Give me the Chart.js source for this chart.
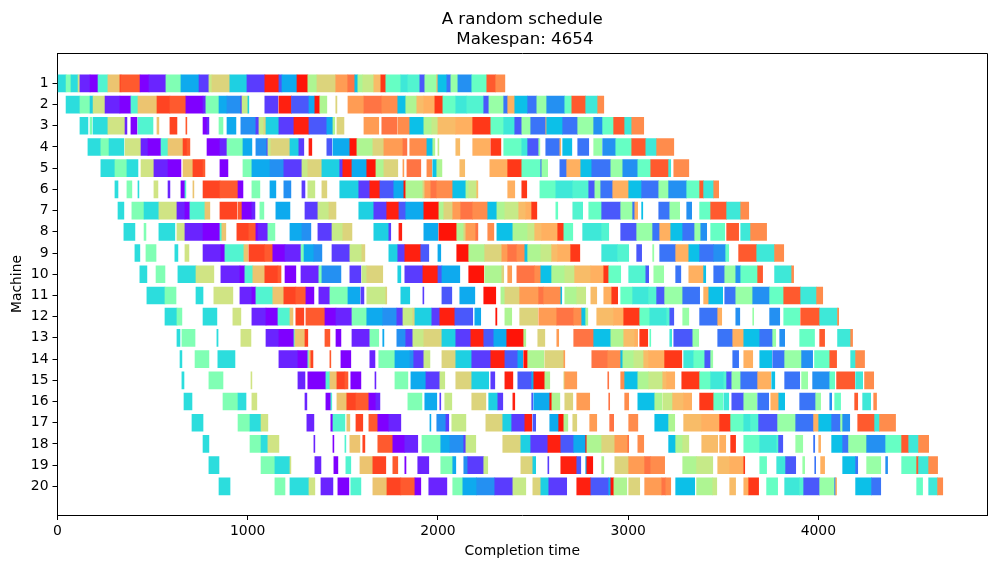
<!DOCTYPE html>
<html>
<head>
<meta charset="utf-8">
<style>html,body{margin:0;padding:0;background:#fff}canvas{display:block}</style>
<script src="https://cdn.jsdelivr.net/npm/chart.js@4"></script>
</head>
<body>
<canvas id="gantt" width="997" height="568"></canvas>
<script>
// Job colours, sampled along a purple-to-red rainbow ramp.
const jobColours = ['#7f00ff','#6a24ff','#5a3cfe','#4a58fb','#3a74f8','#2490f2','#0eaaee','#0cc0e8','#1ed0e2','#2cdddd',
  '#3ee8d8','#52f4d0','#66ffc4','#80ffb4','#98ffa6','#aef592','#c6ea88','#d0e484','#dcd47c','#ecc470',
  '#f8bc68','#ffb060','#ff9c54','#ff8c4c','#ff7444','#ff5a2e','#ff4422','#ff3818','#ff2010','#ff1408'];

const chartTitle = ['A random schedule', ' Makespan: 4654'];
const makespan = 4654;
const xTicks = [0, 1000, 2000, 3000, 4000];

// One list per machine: [colour index, start time, completion time].
const machine1 = [[9,0,45],[13,45,71],[9,71,108],[17,108,118],[1,118,171],[0,171,213],[11,213,265],[19,265,328],[26,328,334],[25,334,434],[0,434,481],[1,481,570],[13,570,649],[6,649,744],[2,744,796],[16,796,812],[18,812,906],[8,906,996],[2,996,1090],[28,1090,1164],[3,1164,1180],[6,1180,1259],[29,1259,1316],[15,1316,1364],[18,1364,1463],[22,1463,1526],[24,1526,1563],[7,1563,1579],[15,1579,1605],[16,1605,1663],[20,1663,1700],[27,1700,1726],[12,1726,1805],[10,1805,1842],[11,1842,1905],[3,1905,1931],[14,1931,1994],[21,1994,2000],[7,2000,2047],[4,2047,2068],[14,2068,2105],[5,2105,2178],[12,2178,2257],[25,2257,2304],[23,2304,2352]];
const machine2 = [[9,45,118],[13,118,171],[8,171,187],[17,187,250],[1,250,328],[0,328,386],[11,386,423],[19,423,523],[26,523,591],[25,591,675],[0,675,765],[1,765,780],[13,780,849],[6,849,891],[5,891,964],[2,964,970],[16,970,1001],[8,1001,1006],[2,1090,1159],[28,1164,1230],[3,1230,1322],[6,1322,1353],[29,1353,1379],[15,1379,1416],[18,1463,1469],[22,1527,1611],[24,1611,1705],[23,1705,1789],[7,1789,1831],[15,1831,1889],[20,1889,1926],[21,1926,1984],[27,1984,2026],[12,2026,2094],[10,2094,2152],[11,2152,2241],[3,2241,2268],[14,2268,2346],[4,2346,2367],[21,2367,2404],[7,2404,2472],[4,2472,2520],[14,2520,2572],[5,2572,2667],[12,2667,2704],[25,2704,2777],[10,2777,2840],[23,2840,2872]];
const machine3 = [[9,118,160],[13,171,181],[9,187,265],[17,265,355],[1,355,365],[0,386,418],[11,423,502],[19,523,533],[26,591,628],[25,675,680],[0,765,786],[1,786,796],[13,849,870],[6,891,938],[5,964,1043],[2,1043,1059],[16,1059,1085],[18,1085,1096],[8,1096,1164],[2,1164,1243],[28,1243,1322],[3,1322,1416],[6,1416,1448],[15,1448,1458],[18,1469,1506],[22,1611,1689],[24,1705,1784],[23,1789,1852],[7,1852,1926],[15,1926,1968],[16,1968,2000],[20,2000,2094],[21,2094,2183],[27,2183,2278],[12,2278,2346],[10,2346,2404],[3,2404,2441],[14,2441,2488],[4,2488,2567],[21,2567,2572],[7,2572,2656],[4,2656,2735],[14,2735,2819],[5,2819,2866],[12,2866,2924],[25,2924,2982],[10,2982,3019],[23,3019,3082]];
const machine4 = [[9,160,228],[13,228,271],[9,271,349],[17,355,439],[1,439,476],[0,476,544],[11,544,581],[19,581,660],[26,660,681],[25,681,696],[0,786,854],[1,854,891],[13,891,975],[6,975,1022],[5,1043,1101],[2,1101,1106],[16,1106,1122],[18,1122,1222],[8,1222,1269],[2,1269,1295],[28,1322,1337],[3,1416,1442],[6,1448,1537],[29,1537,1574],[15,1574,1658],[18,1658,1716],[22,1716,1816],[24,1816,1837],[23,1852,1942],[7,1942,1973],[15,1973,1984],[16,2000,2005],[20,2094,2115],[21,2183,2273],[27,2278,2331],[12,2346,2441],[10,2441,2472],[3,2472,2530],[14,2530,2536],[4,2567,2641],[21,2641,2646],[7,2656,2704],[4,2735,2793],[14,2819,2861],[5,2866,2935],[12,2935,3019],[25,3019,3093],[10,3093,3150],[23,3150,3240]];
const machine5 = [[9,228,302],[13,302,365],[9,365,423],[17,439,507],[1,507,581],[0,581,649],[19,660,712],[26,712,765],[25,765,775],[0,854,896],[13,975,1022],[6,1022,1117],[5,1117,1190],[2,1190,1285],[16,1285,1316],[18,1316,1390],[8,1390,1484],[2,1484,1500],[28,1500,1548],[6,1548,1626],[29,1626,1674],[15,1674,1716],[18,1716,1789],[22,1816,1821],[24,1837,1910],[23,1942,1968],[7,1973,1994],[15,1994,2021],[20,2115,2141],[21,2273,2367],[27,2367,2441],[12,2441,2541],[3,2541,2546],[14,2546,2577],[4,2641,2677],[21,2677,2751],[7,2751,2809],[4,2809,2909],[14,2909,2972],[5,2972,3051],[12,3051,3119],[25,3119,3213],[10,3213,3224],[23,3240,3319]];
const machine6 = [[9,302,318],[13,365,391],[9,423,428],[17,507,528],[1,581,591],[0,649,670],[11,670,675],[19,712,717],[26,765,854],[25,854,949],[0,949,975],[13,1022,1064],[6,1117,1148],[5,1190,1227],[2,1285,1301],[16,1316,1353],[18,1390,1416],[8,1484,1584],[2,1584,1642],[28,1642,1695],[3,1695,1768],[6,1768,1821],[29,1821,1831],[15,1831,1921],[18,1921,1931],[22,1931,1963],[24,1963,1994],[23,1994,2078],[7,2078,2147],[15,2147,2162],[16,2162,2204],[20,2204,2210],[21,2367,2404],[27,2441,2467],[12,2536,2620],[10,2620,2709],[11,2709,2793],[3,2793,2825],[14,2825,2856],[4,2856,2919],[21,2919,3003],[7,3003,3071],[4,3071,3161],[14,3161,3213],[5,3213,3308],[12,3308,3376],[25,3376,3397],[10,3397,3450],[23,3450,3476]];
const machine7 = [[9,318,349],[13,391,455],[9,455,533],[17,533,628],[1,628,670],[0,670,696],[11,696,775],[19,775,801],[26,854,943],[25,949,970],[0,970,1022],[1,1022,1038],[13,1064,1085],[6,1148,1222],[2,1301,1369],[16,1369,1427],[18,1427,1464],[8,1584,1663],[2,1663,1731],[28,1731,1795],[3,1795,1831],[6,1831,1926],[29,1926,2005],[15,2005,2031],[18,2031,2078],[22,2078,2120],[24,2120,2183],[23,2183,2262],[7,2262,2310],[15,2310,2352],[16,2352,2425],[20,2425,2462],[21,2462,2493],[27,2493,2520],[12,2620,2630],[11,2709,2761],[12,2793,2861],[3,2861,2961],[14,2961,3024],[4,3024,3035],[21,3035,3050],[7,3071,3077],[4,3161,3219],[14,3219,3271],[5,3308,3334],[12,3376,3434],[25,3434,3518],[10,3518,3592],[23,3592,3634]];
const machine8 = [[9,349,407],[13,455,465],[9,533,617],[17,628,670],[1,670,765],[0,765,854],[11,854,864],[19,864,885],[26,943,1006],[25,1006,1043],[0,1043,1054],[1,1054,1106],[13,1106,1143],[6,1222,1285],[5,1285,1332],[2,1369,1443],[16,1443,1500],[18,1500,1548],[8,1663,1742],[2,1742,1752],[28,1795,1810],[6,1926,2000],[29,2005,2099],[15,2099,2136],[18,2136,2147],[22,2147,2199],[24,2199,2210],[23,2262,2294],[7,2310,2394],[15,2394,2472],[16,2472,2509],[20,2509,2546],[21,2546,2630],[27,2630,2662],[12,2662,2709],[10,2761,2861],[11,2861,2898],[3,2961,3045],[14,3045,3129],[4,3129,3166],[21,3166,3224],[7,3224,3287],[4,3287,3350],[14,3350,3382],[5,3382,3413],[12,3434,3508],[25,3518,3581],[10,3592,3644],[23,3644,3728]];
const machine9 = [[9,407,433],[13,465,518],[9,617,633],[17,670,691],[1,765,859],[0,859,880],[11,880,980],[19,980,1001],[26,1006,1090],[25,1090,1132],[0,1132,1196],[1,1196,1280],[13,1280,1296],[6,1296,1348],[5,1348,1390],[2,1443,1537],[16,1537,1600],[18,1600,1616],[8,1742,1789],[2,1789,1826],[28,1826,1910],[3,1910,1952],[6,2000,2015],[29,2099,2162],[15,2162,2246],[18,2246,2336],[22,2336,2367],[24,2367,2415],[23,2415,2457],[7,2457,2472],[15,2472,2541],[16,2541,2598],[20,2598,2630],[21,2630,2698],[27,2698,2746],[10,2861,2945],[11,2945,3003],[3,3045,3071],[14,3129,3135],[4,3166,3250],[21,3250,3319],[7,3319,3376],[4,3376,3450],[5,3450,3513],[12,3513,3529],[25,3581,3676],[10,3676,3770],[23,3770,3818]];
const machine10 = [[9,433,470],[13,518,565],[9,633,728],[17,728,822],[1,859,959],[0,959,985],[11,985,1027],[19,1027,1090],[26,1090,1159],[25,1159,1175],[0,1196,1253],[1,1280,1374],[13,1374,1390],[5,1390,1490],[2,1537,1595],[16,1600,1626],[18,1626,1710],[8,1789,1805],[2,1826,1921],[28,1921,2000],[3,2000,2021],[6,2021,2115],[29,2162,2241],[15,2246,2336],[18,2336,2346],[22,2367,2388],[24,2415,2509],[23,2509,2541],[7,2541,2598],[15,2598,2667],[16,2667,2719],[20,2719,2804],[21,2804,2872],[27,2872,2898],[12,2898,2961],[11,3003,3093],[3,3093,3108],[14,3135,3187],[4,3250,3277],[21,3319,3397],[7,3397,3408],[4,3450,3508],[14,3508,3566],[5,3566,3592],[12,3592,3681],[25,3681,3707],[10,3770,3860],[23,3860,3870]];
const machine11 = [[9,470,565],[13,565,623],[9,728,765],[17,822,922],[1,959,1022],[0,1022,1043],[11,1043,1132],[19,1132,1190],[26,1190,1253],[25,1253,1306],[0,1306,1348],[1,1374,1432],[13,1432,1527],[6,1527,1590],[2,1595,1611],[16,1626,1726],[18,1726,1731],[8,1805,1852],[2,1921,1926],[3,2021,2073],[6,2115,2194],[29,2241,2304],[15,2331,2352],[18,2352,2430],[22,2430,2530],[24,2530,2556],[23,2556,2646],[7,2646,2651],[15,2667,2730],[16,2730,2777],[20,2804,2835],[21,2872,2914],[27,2914,2945],[12,2961,3024],[10,3024,3108],[11,3108,3150],[3,3150,3192],[14,3192,3287],[4,3287,3376],[21,3397,3424],[7,3424,3497],[4,3508,3566],[14,3566,3655],[5,3655,3744],[12,3744,3818],[25,3818,3907],[10,3907,3991],[23,3991,4023]];
const machine12 = [[9,565,628],[13,628,654],[9,765,838],[17,922,964],[1,1022,1096],[0,1096,1159],[11,1159,1222],[19,1222,1238],[26,1253,1295],[25,1306,1406],[0,1406,1464],[1,1464,1548],[13,1548,1626],[6,1626,1710],[5,1710,1784],[2,1784,1816],[16,1816,1868],[18,1868,1879],[8,1879,1968],[2,1968,2010],[28,2010,2089],[3,2089,2183],[6,2194,2225],[29,2304,2310],[15,2352,2388],[18,2430,2525],[22,2530,2625],[24,2625,2714],[23,2714,2756],[7,2756,2777],[15,2777,2788],[20,2835,2924],[21,2924,2977],[27,2977,3061],[12,3061,3114],[10,3114,3203],[11,3203,3219],[3,3219,3240],[14,3287,3319],[4,3376,3471],[21,3471,3492],[5,3566,3587],[14,3655,3660],[5,3744,3797],[12,3818,3902],[25,3907,4007],[10,4007,4101],[23,4101,4107]];
const machine13 = [[9,628,644],[13,654,723],[9,838,844],[17,964,1017],[1,1096,1164],[0,1164,1243],[11,1243,1248],[19,1248,1301],[26,1301,1316],[25,1406,1432],[0,1464,1490],[1,1548,1642],[13,1642,1689],[6,1710,1716],[5,1784,1831],[2,1831,1868],[16,1868,1926],[18,1926,2021],[8,2021,2094],[2,2094,2173],[28,2173,2241],[3,2241,2294],[6,2294,2362],[29,2362,2451],[15,2451,2462],[18,2525,2562],[22,2625,2635],[24,2714,2819],[7,2819,2909],[15,2909,2977],[20,2977,3035],[21,3035,3050],[27,3061,3103],[12,3114,3119],[10,3219,3229],[3,3240,3340],[14,3340,3371],[4,3471,3550],[21,3550,3608],[7,3608,3692],[4,3692,3760],[14,3760,3776],[5,3797,3823],[12,3902,3980],[25,4007,4033],[10,4101,4170],[23,4170,4180]];
const machine14 = [[9,644,654],[13,723,796],[9,843,933],[1,1164,1264],[0,1264,1316],[11,1316,1322],[19,1322,1332],[26,1332,1343],[25,1432,1437],[0,1490,1542],[1,1642,1669],[13,1689,1774],[6,1774,1853],[5,1853,1873],[2,1873,1926],[16,1926,1958],[18,2021,2094],[8,2094,2178],[2,2178,2278],[28,2278,2352],[3,2352,2420],[6,2420,2446],[29,2451,2472],[15,2472,2557],[18,2562,2662],[22,2662,2667],[24,2809,2893],[23,2893,2961],[7,2961,2972],[15,2972,3030],[16,3030,3082],[20,3082,3108],[21,3108,3192],[27,3192,3282],[10,3292,3345],[12,3345,3403],[3,3403,3434],[14,3434,3445],[4,3550,3581],[21,3608,3655],[7,3692,3755],[4,3760,3823],[14,3823,3912],[5,3912,3970],[12,3980,4060],[25,4060,4096],[10,4170,4196],[23,4196,4243]];
const machine15 = [[9,654,665],[13,796,870],[17,1017,1022],[1,1264,1301],[0,1316,1411],[11,1411,1432],[19,1432,1469],[26,1469,1511],[25,1511,1527],[0,1542,1595],[1,1669,1674],[13,1774,1842],[6,1858,1937],[2,1937,2010],[16,2010,2036],[18,2094,2178],[8,2178,2267],[2,2278,2299],[28,2352,2394],[3,2420,2493],[6,2493,2504],[29,2504,2562],[15,2562,2588],[18,2662,2667],[22,2667,2730],[24,2893,2898],[23,2961,2982],[7,2982,3051],[15,3051,3108],[16,3108,3182],[20,3182,3203],[21,3203,3245],[27,3282,3376],[12,3376,3434],[10,3434,3503],[11,3503,3518],[3,3518,3545],[14,3545,3592],[4,3592,3681],[21,3681,3750],[7,3755,3771],[4,3823,3902],[14,3912,3944],[5,3970,4060],[12,4060,4086],[25,4096,4191],[10,4196,4233],[23,4243,4291]];
const machine16 = [[9,665,707],[13,870,949],[9,949,991],[17,1022,1048],[1,1301,1311],[0,1411,1437],[11,1437,1442],[19,1469,1521],[26,1521,1569],[25,1569,1637],[0,1637,1674],[1,1674,1695],[13,1842,1916],[6,1931,1994],[2,2010,2015],[16,2036,2073],[18,2178,2252],[8,2267,2315],[2,2315,2341],[28,2394,2404],[3,2493,2499],[6,2504,2588],[29,2588,2599],[15,2599,2641],[18,2667,2709],[22,2730,2798],[24,2898,2903],[23,2982,3003],[7,3051,3140],[15,3140,3177],[16,3182,3234],[20,3234,3292],[21,3292,3334],[27,3376,3450],[12,3450,3497],[10,3503,3529],[3,3545,3608],[14,3608,3676],[4,3681,3739],[21,3750,3792],[7,3792,3823],[4,3902,3986],[14,3986,4012],[5,4060,4070],[12,4086,4117],[25,4191,4207],[10,4233,4275],[23,4291,4306]];
const machine17 = [[9,707,765],[13,949,1012],[9,1012,1070],[17,1070,1106],[1,1311,1348],[0,1437,1448],[11,1448,1511],[19,1521,1537],[26,1569,1605],[25,1637,1684],[0,1684,1742],[1,1742,1805],[6,1958,1963],[5,1994,2042],[2,2042,2057],[16,2073,2147],[18,2252,2341],[8,2341,2388],[2,2388,2457],[28,2457,2493],[3,2499,2514],[6,2588,2635],[29,2635,2662],[15,2662,2683],[18,2709,2730],[22,2798,2835],[24,2903,2924],[23,3003,3051],[7,3140,3213],[15,3213,3245],[20,3292,3387],[21,3387,3481],[27,3481,3539],[12,3539,3608],[10,3608,3644],[11,3644,3686],[3,3686,3786],[14,3786,3881],[4,3881,3975],[21,3975,4002],[7,4002,4070],[4,4070,4117],[14,4117,4128],[5,4128,4165],[25,4207,4296],[10,4296,4322],[23,4322,4406]];
const machine18 = [[9,765,796],[13,1012,1070],[9,1070,1106],[17,1106,1164],[1,1348,1353],[0,1448,1453],[11,1511,1516],[19,1537,1590],[26,1605,1616],[25,1684,1763],[0,1763,1826],[1,1826,1894],[13,1916,2015],[6,2015,2063],[5,2063,2136],[2,2136,2147],[16,2147,2199],[18,2341,2436],[8,2436,2488],[2,2488,2578],[28,2578,2646],[3,2646,2714],[6,2714,2777],[29,2777,2783],[15,2783,2861],[18,2861,2930],[22,2930,2998],[24,2998,3003],[23,3051,3082],[7,3213,3250],[15,3250,3287],[16,3287,3319],[20,3387,3471],[21,3481,3513],[27,3539,3565],[12,3608,3692],[10,3692,3781],[11,3781,3791],[3,3791,3813],[14,3881,3918],[4,3975,3981],[21,4002,4012],[7,4070,4128],[4,4128,4159],[14,4159,4254],[5,4254,4354],[12,4354,4438],[25,4438,4475],[10,4475,4527],[23,4527,4580]];
const machine19 = [[9,796,849],[13,1070,1143],[9,1143,1222],[17,1222,1227],[1,1353,1385],[0,1453,1474],[11,1516,1542],[19,1590,1658],[26,1658,1726],[25,1763,1789],[0,1826,1832],[1,1894,1952],[13,2015,2078],[6,2078,2094],[5,2136,2157],[2,2157,2241],[16,2241,2262],[18,2436,2499],[8,2499,2514],[2,2578,2583],[28,2646,2730],[3,2730,2751],[6,2777,2783],[29,2783,2814],[15,2861,2872],[18,2930,3003],[22,3003,3087],[24,3087,3119],[23,3119,3192],[15,3287,3360],[16,3360,3445],[20,3471,3534],[21,3534,3608],[27,3608,3613],[12,3692,3728],[10,3781,3828],[3,3828,3881],[14,3918,3928],[4,3981,3986],[21,4012,4033],[7,4128,4196],[4,4196,4207],[14,4254,4328],[5,4354,4364],[12,4438,4517],[25,4517,4527],[10,4527,4580],[23,4580,4627]];
const machine20 = [[9,849,907],[13,1143,1196],[9,1222,1322],[17,1322,1353],[1,1385,1448],[0,1474,1532],[11,1542,1595],[19,1658,1732],[26,1732,1805],[25,1805,1879],[0,1879,1910],[1,1952,2047],[13,2078,2131],[6,2131,2204],[5,2204,2299],[2,2299,2394],[16,2394,2462],[18,2499,2541],[8,2541,2583],[2,2583,2677],[28,2730,2804],[3,2804,2898],[6,2898,2909],[29,2909,2925],[15,2925,2993],[18,3003,3061],[22,3087,3177],[24,3177,3198],[23,3198,3224],[7,3250,3350],[15,3360,3445],[16,3445,3466],[20,3534,3565],[21,3608,3634],[27,3634,3686],[12,3728,3786],[10,3823,3902],[11,3902,3923],[3,3923,4007],[14,4007,4086],[4,4086,4091],[21,4091,4096],[7,4196,4280],[4,4280,4328],[12,4517,4548],[10,4580,4627],[23,4627,4654]];

const machines = [machine1, machine2, machine3, machine4, machine5, machine6, machine7, machine8, machine9, machine10,
  machine11, machine12, machine13, machine14, machine15, machine16, machine17, machine18, machine19, machine20];

const bars = machines.flatMap((list, i) =>
  list.map(([colour, start, end]) => ({ x: [start, end], y: i + 1, colour })));

const tickFont = { family: 'DejaVu Sans', size: 13.9 };

// Closes the plot frame on the top and right, where the scales draw no border.
const frame = {
  id: 'frame',
  afterDatasetsDraw(chart) {
    const { ctx, chartArea: a } = chart;
    ctx.save();
    ctx.strokeStyle = '#000';
    ctx.lineWidth = 1;
    ctx.beginPath();
    ctx.moveTo(Math.round(a.left) - 0.5, a.top + 0.5);
    ctx.lineTo(Math.round(a.right) + 0.5, a.top + 0.5);
    ctx.lineTo(Math.round(a.right) + 0.5, a.bottom);
    ctx.stroke();
    ctx.restore();
  }
};

new Chart(document.getElementById('gantt'), {
  type: 'bar',
  data: {
    datasets: [{
      data: bars,
      backgroundColor: c => jobColours[c.raw.colour],
      borderWidth: 0,
      barThickness: 17,
      grouped: false
    }]
  },
  options: {
    indexAxis: 'y',
    responsive: false,
    animation: false,
    layout: { padding: { top: 0, right: 10, bottom: 0, left: 0 } },
    plugins: {
      legend: { display: false },
      tooltip: { enabled: false },
      title: {
        display: true,
        fullSize: false,
        text: chartTitle,
        color: '#000',
        font: { family: 'DejaVu Sans', size: 16.67, weight: 'normal', lineHeight: 1.2 },
        padding: { top: 10, bottom: 3 }
      }
    },
    scales: {
      x: {
        type: 'linear',
        min: 0,
        max: makespan * 1.05,
        afterBuildTicks: s => { s.ticks = xTicks.map(value => ({ value })); },
        afterFit: s => { s.height = 53; },
        grid: { display: true, drawOnChartArea: false, color: '#000', tickLength: 5, tickWidth: 1 },
        border: { display: true, color: '#000', width: 1 },
        ticks: { color: '#000', font: tickFont, padding: 3, maxRotation: 0, callback: v => String(v) },
        title: { display: true, text: 'Completion time', color: '#000', font: tickFont, padding: { top: 2, bottom: 8 } }
      },
      y: {
        type: 'linear',
        reverse: true,
        offset: false,
        min: -0.43,
        max: 21.35,
        afterBuildTicks: s => { s.ticks = machines.map((_, i) => ({ value: i + 1 })); },
        afterFit: s => { s.width = 57.5; },
        grid: { display: true, offset: false, drawOnChartArea: false, color: '#000', tickLength: 5, tickWidth: 1 },
        border: { display: true, color: '#000', width: 1 },
        ticks: { color: '#000', font: tickFont, padding: 4, callback: v => String(v) },
        title: { display: true, text: 'Machine', color: '#000', font: tickFont, padding: { top: 9, bottom: 0 } }
      }
    }
  },
  plugins: [frame]
});
</script>
</body>
</html>
